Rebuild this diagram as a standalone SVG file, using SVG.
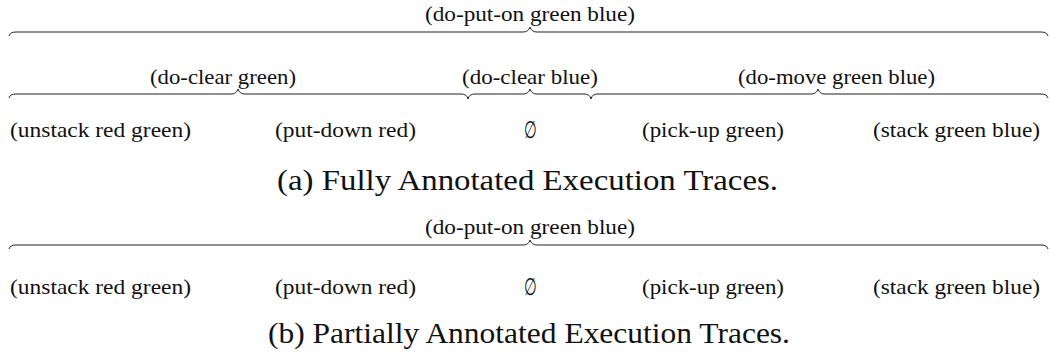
<svg xmlns="http://www.w3.org/2000/svg" width="1050" height="358" viewBox="0 0 1050 358">
<style>
.lbl{font-family:"Liberation Serif","DejaVu Serif",serif;font-size:21px;fill:#111;text-anchor:middle}
.cap{font-family:"Liberation Serif","DejaVu Serif",serif;font-size:29px;fill:#111;text-anchor:middle}
.brace{fill:none;stroke:#222;stroke-width:1}
</style>
<rect width="1050" height="358" fill="#fff"/>
<g id="connectors">
<path class="brace" d="M9,36 Q10,32 16,32 H523 Q528.5,32 530,27 Q531.5,32 537,32 H1041 Q1047,32 1048,36"/>
<path class="brace" d="M9,98 Q10,94 16,94 H231 Q236.5,94 238,89 Q239.5,94 245,94 H461 Q467,94 468,99"/>
<path class="brace" d="M468,99 Q469,94 475,94 H523 Q528.5,94 530,89 Q531.5,94 537,94 H584 Q590,94 591,99"/>
<path class="brace" d="M591,99 Q592,94 598,94 H811 Q816.5,94 818,89 Q819.5,94 825,94 H1041 Q1047,94 1048,98"/>
<path class="brace" d="M9,249 Q10,245 16,245 H523 Q528.5,245 530,240 Q531.5,245 537,245 H1041 Q1047,245 1048,249"/>
</g>
<g id="a-do-put-on"><text class="lbl" x="530" y="21" textLength="210" lengthAdjust="spacingAndGlyphs">(do-put-on green blue)</text></g>
<g id="a-do-clear-green"><text class="lbl" x="223" y="84" textLength="146" lengthAdjust="spacingAndGlyphs">(do-clear green)</text></g>
<g id="a-do-clear-blue"><text class="lbl" x="530" y="84" textLength="136" lengthAdjust="spacingAndGlyphs">(do-clear blue)</text></g>
<g id="a-do-move"><text class="lbl" x="836.5" y="84" textLength="197" lengthAdjust="spacingAndGlyphs">(do-move green blue)</text></g>
<g id="a-unstack"><text class="lbl" x="100.5" y="137" textLength="181" lengthAdjust="spacingAndGlyphs">(unstack red green)</text></g>
<g id="a-put-down"><text class="lbl" x="345.5" y="137" textLength="141" lengthAdjust="spacingAndGlyphs">(put-down red)</text></g>
<g id="a-empty"><text class="lbl" transform="translate(530,138) scale(0.7,1.15)" x="0" y="0">∅</text></g>
<g id="a-pick-up"><text class="lbl" x="713" y="137" textLength="142" lengthAdjust="spacingAndGlyphs">(pick-up green)</text></g>
<g id="a-stack"><text class="lbl" x="956.5" y="137" textLength="167" lengthAdjust="spacingAndGlyphs">(stack green blue)</text></g>
<g id="caption-a"><text class="cap" x="527.5" y="190" textLength="501" lengthAdjust="spacingAndGlyphs">(a) Fully Annotated Execution Traces.</text></g>
<g id="b-do-put-on"><text class="lbl" x="530" y="234" textLength="210" lengthAdjust="spacingAndGlyphs">(do-put-on green blue)</text></g>
<g id="b-unstack"><text class="lbl" x="100.5" y="294" textLength="181" lengthAdjust="spacingAndGlyphs">(unstack red green)</text></g>
<g id="b-put-down"><text class="lbl" x="345.5" y="294" textLength="141" lengthAdjust="spacingAndGlyphs">(put-down red)</text></g>
<g id="b-empty"><text class="lbl" transform="translate(530,295) scale(0.7,1.15)" x="0" y="0">∅</text></g>
<g id="b-pick-up"><text class="lbl" x="713" y="294" textLength="142" lengthAdjust="spacingAndGlyphs">(pick-up green)</text></g>
<g id="b-stack"><text class="lbl" x="956.5" y="294" textLength="167" lengthAdjust="spacingAndGlyphs">(stack green blue)</text></g>
<g id="caption-b"><text class="cap" x="529" y="343" textLength="522" lengthAdjust="spacingAndGlyphs">(b) Partially Annotated Execution Traces.</text></g>
</svg>
